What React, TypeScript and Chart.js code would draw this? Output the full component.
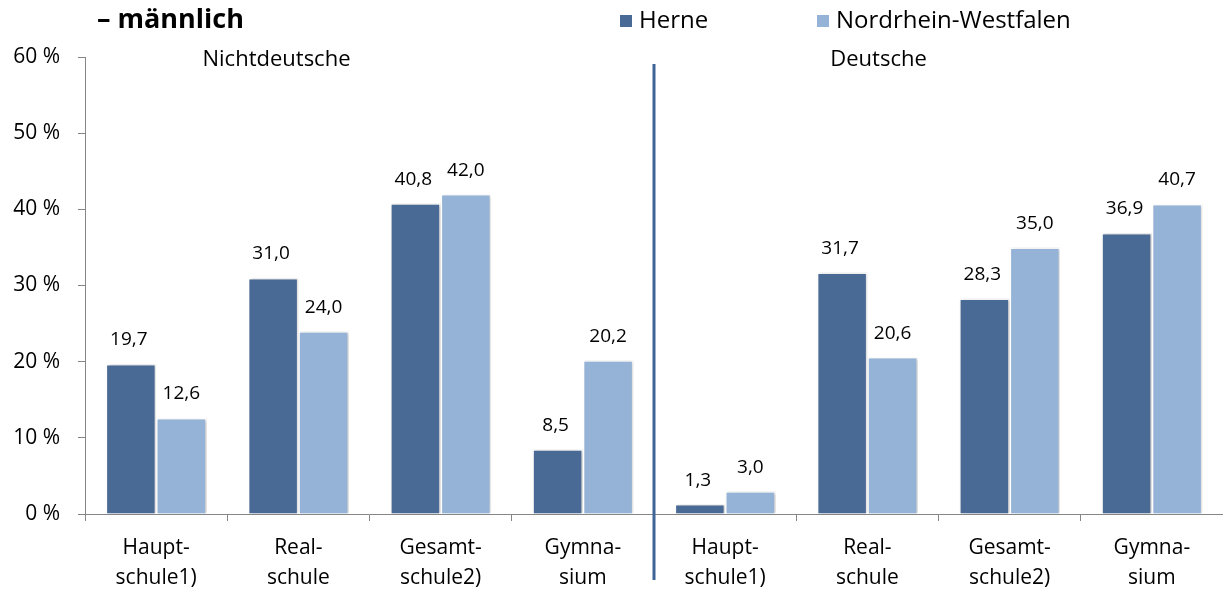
import React, { useEffect, useRef } from "react";
import { Chart, registerables } from "chart.js";

Chart.register(...registerables);

const categories: string[][] = [
  ["Haupt-", "schule1)"],
  ["Real-", "schule"],
  ["Gesamt-", "schule2)"],
  ["Gymna-", "sium"],
  ["Haupt-", "schule1)"],
  ["Real-", "schule"],
  ["Gesamt-", "schule2)"],
  ["Gymna-", "sium"],
];
const herne: number[] = [19.7, 31.0, 40.8, 8.5, 1.3, 31.7, 28.3, 36.9];
const nrw: number[] = [12.6, 24.0, 42.0, 20.2, 3.0, 20.6, 35.0, 40.7];
const seriesNames: string[] = ["Herne", "Nordrhein-Westfalen"];
const groupLabels: string[] = ["Nichtdeutsche", "Deutsche"];
const titleText = "– männlich";

const HERNE_COLOR = "#4A6A96";
const NRW_COLOR = "#95B3D7";
const DIVIDER_COLOR = "#3F6596";
const FONT = "'Open Sans', sans-serif";

const fmt = (v: number) => v.toFixed(1).replace(".", ",");

const overlayPlugin = {
  id: "overlay",
  beforeDatasetsDraw(chart: any) {
    const ctx = chart.ctx as CanvasRenderingContext2D;
    ctx.save();
    ctx.shadowColor = "rgba(0,0,0,0.22)";
    ctx.shadowBlur = 3;
    ctx.shadowOffsetX = 1.5;
    ctx.shadowOffsetY = 0;
  },
  afterDatasetsDraw(chart: any) {
    const ctx = chart.ctx as CanvasRenderingContext2D;
    ctx.restore();
    const area = chart.chartArea;
    const xScale = chart.scales.x;
    ctx.save();
    // data labels
    ctx.fillStyle = "#000";
    ctx.font = `19px ${FONT}`;
    ctx.textAlign = "center";
    ctx.textBaseline = "middle";
    chart.data.datasets.forEach((ds: any, di: number) => {
      const meta = chart.getDatasetMeta(di);
      meta.data.forEach((bar: any, i: number) => {
        const v = ds.data[i];
        ctx.fillText(fmt(v), bar.x + (di === 0 ? -2 : 0), bar.y - 24);
      });
    });
    // divider between the two groups
    const half = categories.length / 2;
    const xDiv = (xScale.getPixelForValue(half - 1) + xScale.getPixelForValue(half)) / 2;
    ctx.strokeStyle = DIVIDER_COLOR;
    ctx.lineWidth = 3;
    ctx.beginPath();
    ctx.moveTo(xDiv, 64);
    ctx.lineTo(xDiv, 580);
    ctx.stroke();
    // group labels
    ctx.fillStyle = "#000";
    ctx.font = `22px ${FONT}`;
    ctx.textAlign = "center";
    const gx1 = (xScale.getPixelForValue(1) + xScale.getPixelForValue(2)) / 2;
    const gx2 = (xScale.getPixelForValue(5) + xScale.getPixelForValue(6)) / 2;
    ctx.fillText(groupLabels[0], gx1 - 93, area.top + 3);
    ctx.fillText(groupLabels[1], gx2 - 60, area.top + 3);
    // title
    ctx.font = `bold 27px ${FONT}`;
    ctx.textAlign = "left";
    ctx.fillText(titleText, 97, 20);
    // legend
    ctx.font = `24px ${FONT}`;
    const legendItems = [
      { x: 620, color: HERNE_COLOR, text: seriesNames[0] },
      { x: 817, color: NRW_COLOR, text: seriesNames[1] },
    ];
    legendItems.forEach((it) => {
      ctx.fillStyle = it.color;
      ctx.fillRect(it.x, 15, 12, 12);
      ctx.fillStyle = "#000";
      ctx.fillText(it.text, it.x + 19, 21);
    });
    ctx.restore();
  },
};

export default function App() {
  const canvasRef = useRef<HTMLCanvasElement | null>(null);

  useEffect(() => {
    document.body.style.margin = "0";
    const canvas = canvasRef.current;
    if (!canvas) return;
    const chart = new Chart(canvas, {
      type: "bar",
      data: {
        labels: categories as any,
        datasets: [
          {
            label: seriesNames[0],
            data: herne,
            backgroundColor: HERNE_COLOR,
            borderColor: "#FFFFFF",
            borderWidth: 1.5,
            categoryPercentage: 0.71,
            barPercentage: 1.0,
          },
          {
            label: seriesNames[1],
            data: nrw,
            backgroundColor: NRW_COLOR,
            borderColor: "#FFFFFF",
            borderWidth: 1.5,
            categoryPercentage: 0.71,
            barPercentage: 1.0,
          },
        ],
      },
      options: {
        responsive: false,
        animation: false,
        layout: { padding: { top: 57, right: 0, left: 0, bottom: 0 } },
        plugins: {
          legend: { display: false },
          title: { display: false },
          tooltip: { enabled: false },
        },
        scales: {
          x: {
            grid: {
              display: true,
              drawOnChartArea: false,
              drawTicks: true,
              tickLength: 7,
              color: "#868686",
              offset: true,
            },
            border: { display: true, color: "#868686", width: 1 },
            ticks: {
              color: "#000",
              font: { family: FONT, size: 21, lineHeight: 1.43 },
              padding: 12,
              maxRotation: 0,
              autoSkip: false,
            },
            afterFit(scale: any) {
              scale.height = 76;
            },
          },
          y: {
            min: 0,
            max: 60,
            grid: {
              display: true,
              drawOnChartArea: false,
              drawTicks: true,
              tickLength: 7,
              color: "#868686",
            },
            border: { display: true, color: "#868686", width: 1 },
            ticks: {
              stepSize: 10,
              color: "#000",
              font: { family: FONT, size: 21 },
              padding: 18,
              callback: (v: any) => `${v} %`,
            },
            afterFit(scale: any) {
              scale.width = 85;
            },
          },
        },
      },
      plugins: [overlayPlugin],
    });
    return () => chart.destroy();
  }, []);

  return (
    <div style={{ width: 1223, height: 590 }}>
      <canvas ref={canvasRef} width={1223} height={590} />
    </div>
  );
}
